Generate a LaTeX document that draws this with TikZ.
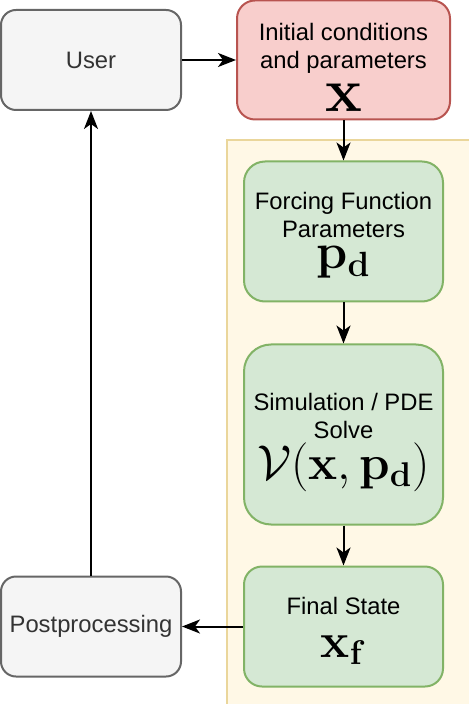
\RequirePackage{fix-cm}
\documentclass[tikz,border=0pt]{standalone}
\usepackage[no-math]{fontspec}
\newfontfamily\diagfont{Liberation Sans}
\usepackage{xcolor}
\usetikzlibrary{arrows.meta, positioning, backgrounds}

\definecolor{userfill}{HTML}{F5F5F5}
\definecolor{userdraw}{HTML}{666666}
\definecolor{usertext}{HTML}{333333}
\definecolor{inputfill}{HTML}{F8CECC}
\definecolor{inputdraw}{HTML}{B85450}
\definecolor{stagefill}{HTML}{D5E8D4}
\definecolor{stagedraw}{HTML}{82B366}
\definecolor{panelfill}{HTML}{FFF8E6}
\definecolor{paneldraw}{HTML}{EAD69B}

\newcommand{\eqsize}[2]{{\fontsize{#1}{#1}\selectfont$#2$}}
\newcommand{\padtop}[1]{\rule{0pt}{\dimexpr 8.7pt+#1\relax}}

\begin{document}
\begin{tikzpicture}[
        node distance=20pt and 27pt,
        every node/.style={font=\diagfont\fontsize{11.9}{14}\selectfont},
        box/.style={rectangle, draw, line width=1pt, align=center, inner sep=0pt},
        ext/.style={box, fill=userfill, draw=userdraw, text=usertext, minimum width=90pt, minimum height=50pt, rounded corners=7.5pt},
        stage/.style={box, fill=stagefill, draw=stagedraw, minimum width=99.5pt},
        >={Stealth[length=9pt, width=7pt, inset=2.5pt]}
    ]
        \useasboundingbox (0,0) rectangle (234pt,-352pt);

        \node[ext] (user) at (45.5pt,-30pt) {User};
        \node[box, fill=inputfill, draw=inputdraw, minimum width=106.5pt, minimum height=59.5pt, rounded corners=9pt, right=27pt of user] (input) {\padtop{7.5pt}Initial conditions\\and parameters\\[4.5pt]\eqsize{31}{\mathbf{x}}};

        \node[stage, minimum height=70pt, rounded corners=10.5pt, below=20pt of input] (forcing) {\padtop{4pt}Forcing Function\\Parameters\\[1.5pt]\eqsize{25}{\mathbf{p_d}}};
        \node[stage, minimum height=90pt, rounded corners=13.5pt, below=20.5pt of forcing] (solve) {\padtop{8pt}Simulation / PDE\\Solve\\[1pt]\eqsize{24.5}{\mathcal{V}(\mathbf{x},\mathbf{p_d})}};
        \node[stage, minimum height=60pt, rounded corners=9pt, below=20pt of solve] (final) {\padtop{4.5pt}Final State\\[7.5pt]\eqsize{24.5}{\mathbf{x_f}}};

        \node[ext] (post) at (user |- final) {Postprocessing};

        \begin{scope}[on background layer]
            \draw[line width=1pt, fill=panelfill, draw=paneldraw] ([xshift=-8pt, yshift=10pt]forcing.north west) rectangle ([xshift=13pt, yshift=-10pt]final.south east);
        \end{scope}

        \draw[->, line width=1pt] (user) -- (input);
        \draw[->, line width=1pt] (input) -- (forcing);
        \draw[->, line width=1pt] (forcing) -- (solve);
        \draw[->, line width=1pt] (solve) -- (final);
        \draw[->, line width=1pt] (final) -- (post);
        \draw[->, line width=1pt] (post) -- (user);

    \end{tikzpicture}
\end{document}
